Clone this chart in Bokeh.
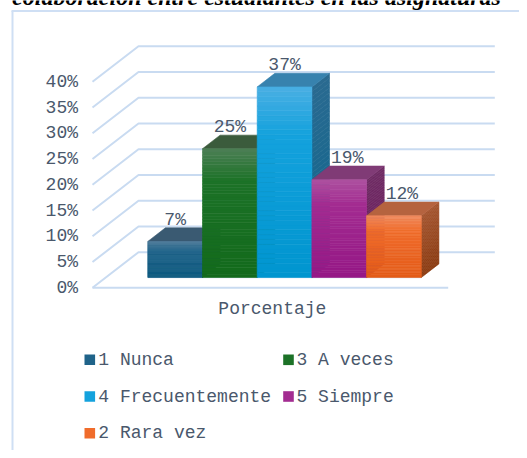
from bokeh.plotting import figure
from bokeh.models import Range1d
from bokeh.core.properties import value
from bokeh.embed import file_html
from bokeh.resources import INLINE

# ---------------- data ----------------
title_text = "colaboración entre estudiantes en las asignaturas"
categories = ["1 Nunca", "3 A veces", "4 Frecuentemente", "5 Siempre", "2 Rara vez"]
percentages = [7, 25, 37, 19, 12]
value_labels = ["7%", "25%", "37%", "19%", "12%"]
tick_values = [0, 5, 10, 15, 20, 25, 30, 35, 40]
tick_labels = ["0%", "5%", "10%", "15%", "20%", "25%", "30%", "35%", "40%"]
axis_category = "Porcentaje"

# ---------------- styles ----------------
front_bottom = ["#0b587e", "#136a1c", "#0095cf", "#951886", "#e35c19"]
front_mid = ["#1f6389", "#1c7227", "#14a2dd", "#a32c91", "#f06c2b"]
front_top = ["#4a7898", "#4c7f55", "#4aafe3", "#ae52a0", "#f0895c"]
top_face = ["#3a5a72", "#3b5b3c", "#3782ae", "#803b76", "#b5633f"]
side_top = ["#2b5066", "#2e5333", "#2a6a90", "#6f2c64", "#a3532d"]
side_bottom = ["#0d4763", "#0f5215", "#0b668e", "#6a1c5e", "#8a3a10"]
legend_col = ["#1f6389", "#1c7227", "#14a2dd", "#a32c91", "#f06c2b"]
label_dx = [0, 0, 0, 8, 8]

TEXT = "#4a586c"
GRID = "#c9dbf1"
FONT = value("Liberation Mono")

W, H = 519, 450
PX = 5.15            # pixels per percent
FRONT0 = 287.3       # canvas y of the front 0% line
YMAX = FRONT0 / PX
YMIN = YMAX - H / PX


def Y(cy):
    return YMAX - cy / PX


WALL_DX = 46.0
WALL_DY = 35.6 / PX
FLOOR_X0, FLOOR_X1 = 92.0, 447.7
GRID_X1 = 494.3
BAR_X0, BAR_W = 147.3, 54.7
BAR_DX, BAR_DY = 17.6, 13.6 / PX
BASE = 2.0


def hex2rgb(h):
    h = h.lstrip("#")
    return [int(h[i:i + 2], 16) for i in (0, 2, 4)]


def mix(a, b, t):
    ra, rb = hex2rgb(a), hex2rgb(b)
    return "#%02x%02x%02x" % tuple(int(round(ra[k] + (rb[k] - ra[k]) * t)) for k in range(3))


def grad3(bot, mid, top, t):
    if t < 0.75:
        return mix(bot, mid, t / 0.75)
    return mix(mid, top, (t - 0.75) / 0.25)


p = figure(width=W, height=H, x_range=Range1d(0, W), y_range=Range1d(YMIN, YMAX),
           x_axis_type=None, y_axis_type=None, toolbar_location=None,
           output_backend="svg", min_border=0, outline_line_color=None,
           background_fill_color="white", border_fill_color="white")
p.grid.visible = False

# frame border (left and top)
p.line([12, 12], [Y(10.5), Y(H)], line_color="#cfdff4", line_width=2)
p.line([11, W], [Y(10.5), Y(10.5)], line_color="#cfdff4", line_width=2)

# title (clipped at the top like the reference)
p.text([11.7], [Y(-4.0)], text=[title_text], text_font=value("Liberation Serif"),
       text_font_style="bold italic", text_font_size="24px", text_color="black",
       text_baseline="alphabetic", text_align="left")

# gridlines on the wall
gx, gy = [], []
for t in tick_values:
    gx.append([FLOOR_X0, FLOOR_X0 + WALL_DX, GRID_X1])
    gy.append([t, t + WALL_DY, t + WALL_DY])
p.multi_line(gx, gy, line_color=GRID, line_width=2)
p.line([FLOOR_X0, FLOOR_X1], [0, 0], line_color=GRID, line_width=2)
p.line([BAR_X0, BAR_X0 + BAR_W * len(percentages)], [BASE, BASE], line_color="#d5e2f2", line_width=1.5)

# tick labels
p.text([77.5] * len(tick_values), tick_values, text=tick_labels, text_font=FONT,
       text_font_size="18px", text_color=TEXT, text_align="right", text_baseline="middle")

# bars
N = 40
for i, v in enumerate(percentages):
    x0 = BAR_X0 + i * BAR_W
    x1 = x0 + BAR_W
    y0 = BASE
    y1 = BASE + v
    # side face with gradient
    sxs, sys, scs = [], [], []
    for k in range(N):
        a = y0 + (y1 - y0) * k / N
        b = y0 + (y1 - y0) * (k + 1) / N
        sxs.append([x1, x1 + BAR_DX, x1 + BAR_DX, x1])
        sys.append([a, a + BAR_DY, b + BAR_DY, b])
        scs.append(mix(side_bottom[i], side_top[i], (k + 0.5) / N))
    p.patches(sxs, sys, fill_color=scs, line_color=scs, line_width=0.6)
    # top face
    p.patch([x0, x1, x1 + BAR_DX, x0 + BAR_DX], [y1, y1, y1 + BAR_DY, y1 + BAR_DY],
            fill_color=top_face[i], line_color=top_face[i], line_width=0.6)
    # front face with gradient
    qb, qt, qc = [], [], []
    for k in range(N):
        qb.append(y0 + (y1 - y0) * k / N)
        qt.append(y0 + (y1 - y0) * (k + 1) / N)
        qc.append(grad3(front_bottom[i], front_mid[i], front_top[i], (k + 0.5) / N))
    p.quad(left=[x0] * N, right=[x1] * N, bottom=qb, top=qt, fill_color=qc,
           line_color=qc, line_width=0.6)

# value labels
lx = [BAR_X0 + (i + 0.5) * BAR_W + label_dx[i] for i in range(len(percentages))]
ly = [BASE + v + BAR_DY + 8 / PX for v in percentages]
p.text(lx, ly, text=value_labels, text_font=FONT, text_font_size="18px",
       text_color=TEXT, text_align="center", text_baseline="middle")

# category axis label
p.text([(FLOOR_X0 + FLOOR_X1) / 2 + 2], [Y(308.3)], text=[axis_category], text_font=FONT,
       text_font_size="18px", text_color=TEXT, text_align="center", text_baseline="middle")

# legend
sq_x = [84.0, 282.7]
tx_x = [97.8, 296.0]
SQ = 10.6
for i, name in enumerate(categories):
    col, row = i % 2, i // 2
    cy = 359.3 + row * 36.7
    p.quad(left=[sq_x[col]], right=[sq_x[col] + SQ], bottom=[Y(cy + SQ / 2)], top=[Y(cy - SQ / 2)],
           fill_color=legend_col[i], line_color=None)
    p.text([tx_x[col]], [Y(cy)], text=[name], text_font=FONT, text_font_size="18px",
           text_color=TEXT, text_align="left", text_baseline="middle")

open("out.html", "w").write(file_html(p, INLINE))
